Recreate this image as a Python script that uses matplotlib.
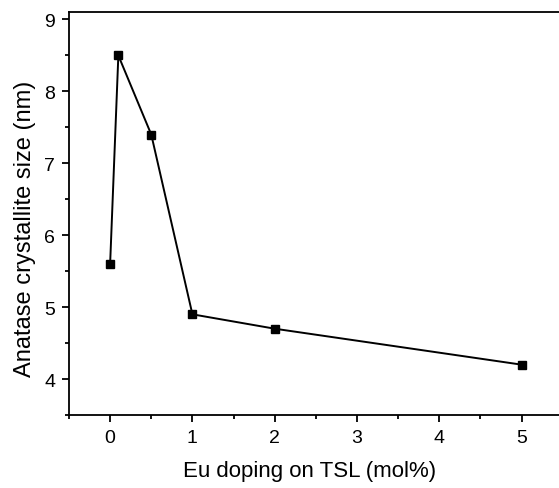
import matplotlib
matplotlib.use("Agg")
import matplotlib.pyplot as plt
from matplotlib.ticker import MultipleLocator

eu_doping = [0, 0.1, 0.5, 1, 2, 5]
crystallite_size = [5.6, 8.5, 7.4, 4.9, 4.7, 4.2]
x_ticks = [0, 1, 2, 3, 4, 5]
y_ticks = [4, 5, 6, 7, 8, 9]

plt.rcParams['font.family'] = ['Liberation Sans', 'DejaVu Sans']

fig = plt.figure(figsize=(5.59, 4.89), dpi=100)
ax = fig.add_axes([0.1234, 0.1493, 0.8832, 0.8235])
ax.plot(eu_doping, crystallite_size, color='black', lw=1.4, marker='s',
        markersize=6, markerfacecolor='black', markeredgecolor='black')
ax.set_xlim(-0.5, 5.5)
ax.set_ylim(3.5, 9.1)
ax.set_xticks(x_ticks)
ax.set_yticks(y_ticks)
ax.xaxis.set_minor_locator(MultipleLocator(0.5))
ax.yaxis.set_minor_locator(MultipleLocator(0.5))
ax.tick_params(which='major', direction='out', length=5, width=1.3, labelsize=14, pad=5)
ax.tick_params(which='minor', direction='out', length=3, width=1.3)
for s in ax.spines.values():
    s.set_linewidth(1.3)
ax.set_xlabel('Eu doping on TSL (mol%)', fontsize=16, labelpad=10)
ax.set_ylabel('Anatase crystallite size (nm)', fontsize=17, labelpad=6)
ax.xaxis.label.set_x(0.488)
ax.yaxis.label.set_y(0.464)
fig.savefig('out.png', dpi=100)
